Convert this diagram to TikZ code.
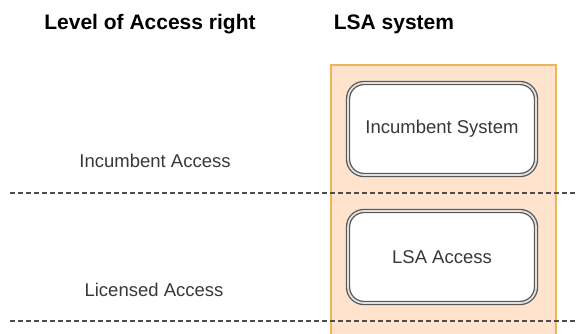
\documentclass[tikz,border=0pt]{standalone}
\usepackage{fontspec}
\setmainfont{Liberation Sans}
\definecolor{peach}{HTML}{FFE3CC}
\definecolor{gold}{HTML}{EDB55A}
\definecolor{txt}{HTML}{383838}
\tikzset{
  head/.style={font=\fontsize{21}{25}\selectfont\bfseries, text=black},
  lbl/.style={font=\fontsize{18.5}{22}\selectfont, text=txt},
  sysbox/.style={draw=black!65, double=black!12, double distance=1.8pt, line width=1.3pt,
    rounded corners=16pt, fill=white, minimum width=188pt, minimum height=92pt,
    font=\fontsize{18.5}{22}\selectfont, text=txt},
  sep/.style={dashed, dash pattern=on 5pt off 3pt, line width=1.2pt, black!70}
}
\begin{document}
\begin{tikzpicture}[x=1pt,y=-1pt]
\useasboundingbox (0,0) rectangle (578,333);
\node[draw=gold, line width=1.5pt, fill=peach, minimum width=225pt, minimum height=280pt, anchor=north west, inner sep=0pt] (sys) at (330,64) {};
\node[head] (h1) at (150,24) {Level of Access right};
\node[head] (h2) at (394,24) {LSA system};
\node[sysbox] (inc) at (442,129) {Incumbent System};
\node[sysbox] (lsa) at (442,257) {LSA Access};
\node[lbl] (ia) at (155,161) {Incumbent Access};
\node[lbl] (la) at (154,290) {Licensed Access};
\coordinate (a1) at (10,193);
\coordinate (a2) at (578,193);
\coordinate (b1) at (10,321);
\coordinate (b2) at (578,321);
\draw[sep] (a1) -- (a2);
\draw[sep] (b1) -- (b2);
\end{tikzpicture}
\end{document}
